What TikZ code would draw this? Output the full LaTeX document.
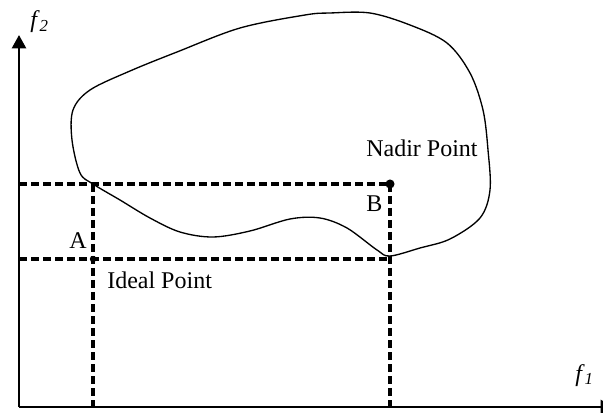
\documentclass[tikz,border=0pt]{standalone}
\usepackage{fontspec}
\setmainfont{Liberation Serif}
\usetikzlibrary{arrows.meta}
\tikzset{
  nhan/.style={anchor=base west,inner sep=0pt,font=\fontsize{18}{21}\selectfont},
  duongdut/.style={line width=2.8pt,dash pattern=on 6pt off 3pt},
  truc/.style={line width=1.8pt,-{Triangle[length=10pt,width=10.5pt]}}
}
\begin{document}
\begin{tikzpicture}[x=0.75pt,y=-0.75pt]
    \useasboundingbox (0,0) rectangle (603,413);
    % Các điểm chính
    \coordinate (O) at (19,407);
    \coordinate (yTop) at (19,35);
    \coordinate (xEnd) at (614,407);
    \coordinate (I) at (93,259);
    \coordinate (N) at (390,184);
    \coordinate (Ny) at (19,184);
    \coordinate (Iy) at (19,259);
    \coordinate (Ix) at (93,407);
    \coordinate (Nx) at (390,407);
    \coordinate (C) at (93,184);
    \coordinate (D) at (390,259);

    % Vẽ trục tọa độ
    \draw[truc] (O) -- (yTop);
    \draw[truc] (O) -- (xEnd);
    \node[nhan] (f2) at (30,28) {\textit{f}\textsubscript{\textit{2}}};
    \node[nhan] (f1) at (575,381) {\textit{f}\textsubscript{\textit{1}}};

    % Vẽ miền khả thi
    \draw[line width=1pt] plot[smooth cycle,tension=0.55] coordinates {
      (93,184) (120,200) (150,218) (180,232) (213,237) (250,231)
      (290,219) (320,218) (347,228) (377,250) (390,256) (420,248)
      (450,239) (480,218) (490,190) (488,150) (483,110) (470,73)
      (447,43) (410,25) (370,13) (330,13) (305,15) (240,28)
      (177,52) (130,71) (90,90) (73,110) (72,140) (80,173)};

    % Các đường nét đứt
    \draw[duongdut] (Ny) -- (N);
    \draw[duongdut] (Iy) -- (D);
    \draw[duongdut] (C) -- (Ix);
    \draw[duongdut] (N) -- (Nx);

    % Điểm lý tưởng và điểm Nadir
    \fill (I) circle (2.4pt);
    \fill (N) circle (3.4pt);
    \node[nhan] (A) at (69,249) {A};
    \node[nhan] (B) at (366,212) {B};
    \node[nhan] (ideal) at (107,288) {Ideal Point};
    \node[nhan] (nadir) at (366,157) {Nadir Point};
\end{tikzpicture}
\end{document}
